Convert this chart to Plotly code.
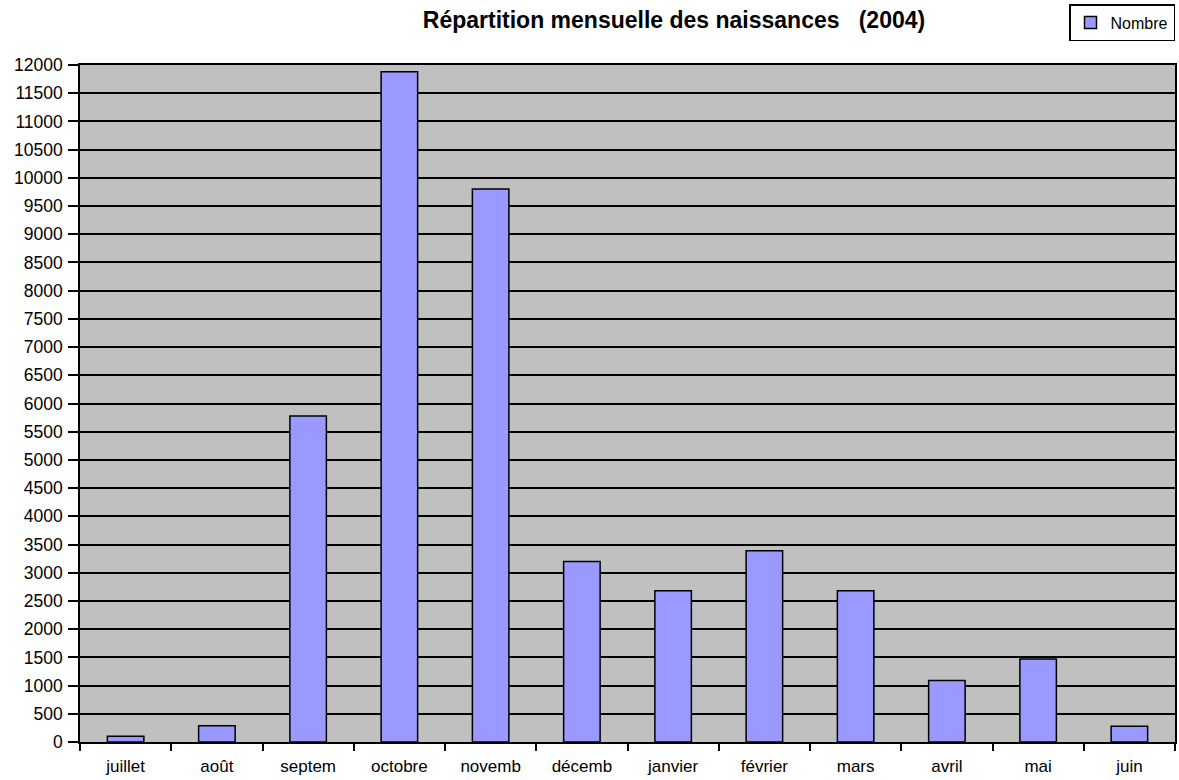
import plotly.graph_objects as go

mois = ["juillet", "août", "septem", "octobre", "novemb", "décemb",
        "janvier", "février", "mars", "avril", "mai", "juin"]
nombre = [100, 290, 5780, 11880, 9800, 3200, 2680, 3390, 2680, 1090, 1470, 280]
y_ticks = list(range(0, 12001, 500))

W, H = 1179, 780
L, R, T, B = 80, 2, 65, 38
FONT = "Liberation Sans, Arial, sans-serif"

fig = go.Figure()
fig.add_trace(go.Bar(
    x=mois, y=nombre, name="Nombre",
    marker=dict(color="#9999FF", line=dict(color="black", width=1.5)),
    showlegend=True,
))

fig.update_layout(
    width=W, height=H,
    margin=dict(l=L, r=R, t=T, b=B),
    paper_bgcolor="white",
    plot_bgcolor="#C0C0C0",
    bargap=0.6,
    font=dict(family=FONT, size=17, color="black"),
    title=dict(
        text="<b>Répartition mensuelle des naissances   (2004)</b>",
        x=674 / W, xanchor="center", y=1 - 20 / H, yanchor="middle",
        xref="container", yref="container",
        font=dict(size=23, family=FONT),
    ),
    legend=dict(
        x=1, xanchor="right", y=1 - 4 / H, yanchor="top",
        yref="container",
        bgcolor="white", bordercolor="black", borderwidth=1.5,
        font=dict(size=16),
        itemwidth=30,
        tracegroupgap=0,
    ),
    showlegend=True,
)

fig.update_xaxes(
    type="category",
    tickson="boundaries",
    ticks="outside", ticklen=7, tickcolor="black", tickwidth=1.5,
    showline=True, linecolor="black", linewidth=1.5, mirror=True,
    showgrid=False,
    tickfont=dict(size=17),
    ticklabelstandoff=8,
)
fig.update_yaxes(
    range=[0, 12000],
    tickvals=y_ticks, ticktext=[str(v) for v in y_ticks],
    ticks="outside", ticklen=10, tickcolor="black", tickwidth=1.5,
    showline=True, linecolor="black", linewidth=1.5, mirror=True,
    showgrid=True, gridcolor="black", gridwidth=1.5,
    zeroline=False,
    tickfont=dict(size=17.5),
    ticklabelstandoff=2,
)

fig.write_html("out.html", config={"displayModeBar": False},
               post_script="document.body.style.margin='0';")
